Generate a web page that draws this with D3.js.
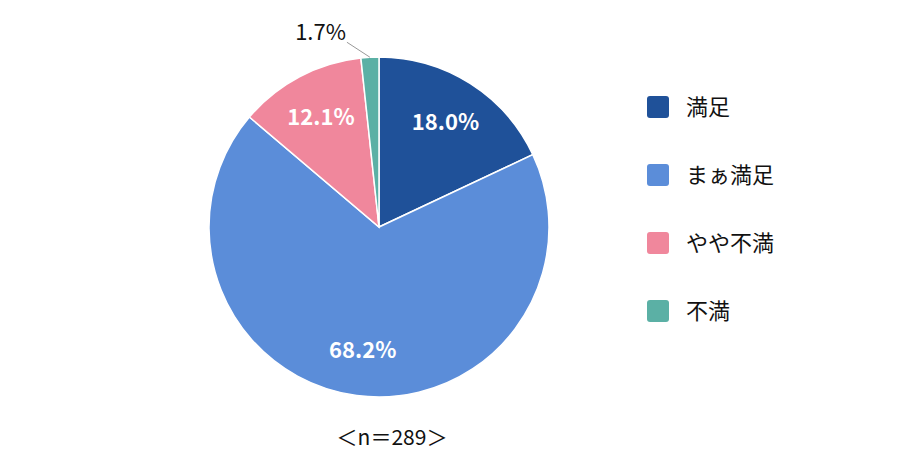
<!DOCTYPE html>
<html>
<head>
<meta charset="utf-8">
<script src="https://cdn.jsdelivr.net/npm/d3@7"></script>
<style>
  body { margin: 0; background: #fff; }
  text { font-family: "Noto Sans CJK JP", "Noto Sans", sans-serif; }
</style>
</head>
<body>
<script>
let categories = ["満足", "まぁ満足", "やや不満", "不満"];
let values = [18.0, 68.2, 12.1, 1.7];
let colors = ["#1f5199", "#5b8dd9", "#f0879c", "#5bb0a5"];
let sampleNote = "＜n＝289＞";

let width = 900, height = 458;
let cx = 379, cy = 227, radius = 170;

let svg = d3.select("body").append("svg")
    .attr("width", width)
    .attr("height", height);

let pie = d3.pie().sort(null).value(d => d)(values);
let arc = d3.arc().innerRadius(0).outerRadius(radius);
let labelArc = d3.arc().innerRadius(124).outerRadius(124);

let g = svg.append("g")
    .attr("transform", `translate(${cx}, ${cy})`);

g.selectAll("path")
    .data(pie)
    .enter()
      .append("path")
      .attr("d", arc)
      .attr("fill", (d, i) => colors[i])
      .attr("stroke", "#fff")
      .attr("stroke-width", 1.5);

// inside labels for the big slices
g.selectAll("text.inner")
    .data(pie.filter(d => d.data >= 5))
    .enter()
      .append("text")
      .attr("class", "inner")
      .attr("transform", d => `translate(${labelArc.centroid(d)})`)
      .attr("text-anchor", "middle")
      .attr("dy", "0.35em")
      .attr("fill", "#fff")
      .attr("font-size", 22)
      .attr("font-weight", "bold")
      .text(d => d.data.toFixed(1) + "%");

// outside label with leader line for small slice
let small = pie.filter(d => d.data < 5);
small.forEach(d => {
  let mid = (d.startAngle + d.endAngle) / 2;
  let p0 = [Math.sin(mid) * radius, -Math.cos(mid) * radius];
  let p1 = [p0[0] - 23, p0[1] - 15];
  g.append("line")
      .attr("x1", p0[0]).attr("y1", p0[1])
      .attr("x2", p1[0]).attr("y2", p1[1])
      .attr("stroke", "#999")
      .attr("stroke-width", 1);
  g.append("text")
      .attr("x", p1[0] - 1)
      .attr("y", p1[1] - 10)
      .attr("text-anchor", "end")
      .attr("dy", "0.35em")
      .attr("fill", "#111")
      .attr("font-size", 22)
      .text(d.data.toFixed(1) + "%");
});

// legend
let legend = svg.append("g")
    .attr("transform", "translate(647, 107)");
let item = legend.selectAll("g")
    .data(categories)
    .enter()
      .append("g")
      .attr("transform", (d, i) => `translate(0, ${i * 68})`);
item.append("rect")
    .attr("x", 0).attr("y", -11)
    .attr("width", 22).attr("height", 22)
    .attr("rx", 3)
    .attr("fill", (d, i) => colors[i]);
item.append("text")
    .attr("x", 39)
    .attr("dy", "0.35em")
    .attr("font-size", 22)
    .attr("fill", "#111")
    .text(d => d);

svg.append("text")
    .attr("x", 392)
    .attr("y", 438)
    .attr("text-anchor", "middle")
    .attr("dy", "0.35em")
    .attr("font-size", 21)
    .attr("fill", "#111")
    .text(sampleNote);
</script>
</body>
</html>
